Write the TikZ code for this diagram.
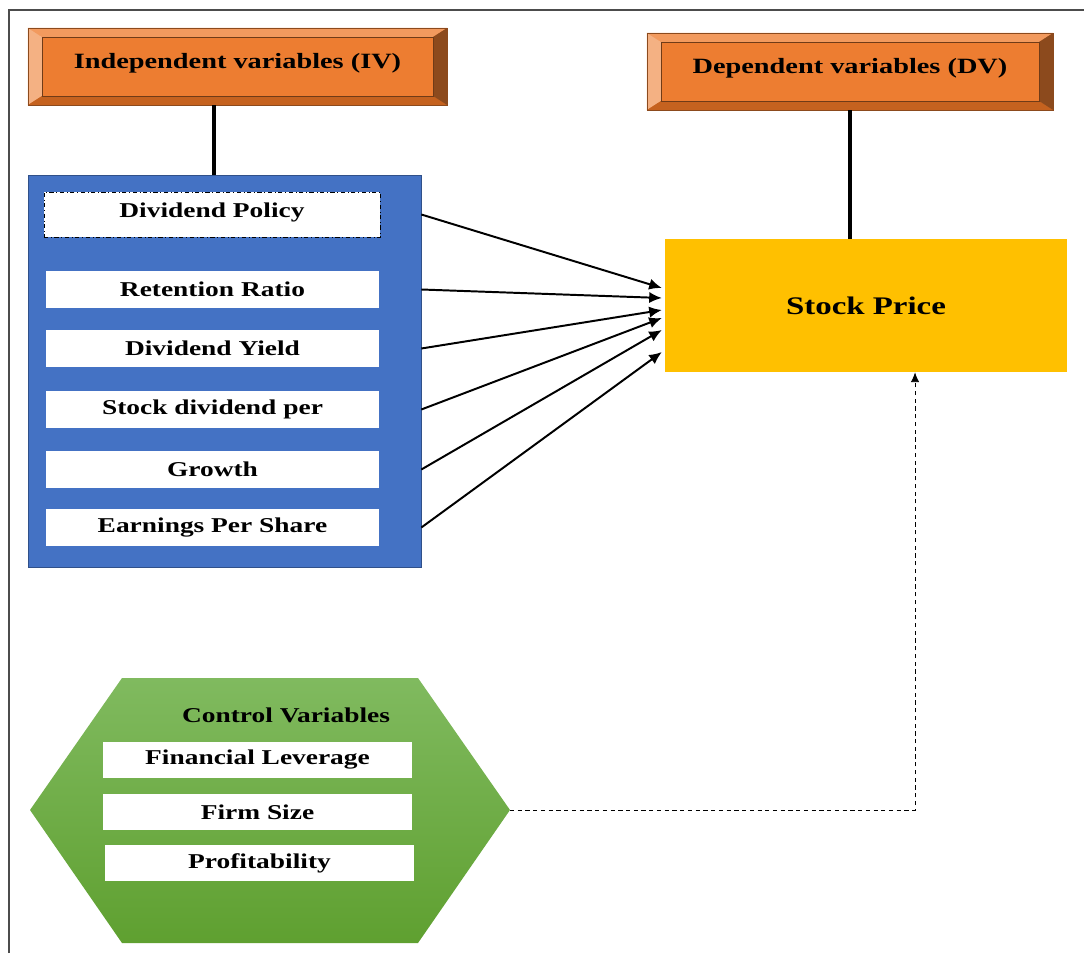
\documentclass[tikz,border=0pt]{standalone}
\usepackage{fontspec}
\setmainfont{Liberation Serif}[FakeStretch=1.3]
\usetikzlibrary{arrows.meta}
\begin{document}
\begin{tikzpicture}[x=0.025cm, y=-0.025cm]
  \definecolor{ivorange}{HTML}{ED7D31}
  \definecolor{bevtop}{HTML}{F29A5E}
  \definecolor{bevleft}{HTML}{F4B183}
  \definecolor{bevbot}{HTML}{C5621F}
  \definecolor{bevright}{HTML}{8C4A1D}
  \definecolor{ivblue}{HTML}{4472C4}
  \definecolor{spgold}{HTML}{FFC000}
  \definecolor{cvtop}{HTML}{80BA5F}
  \definecolor{cvbot}{HTML}{5FA030}
  \tikzstyle{hdr}=[draw=bevright, fill=ivorange, minimum height=1.925cm, inner sep=0pt, text depth=0.3cm, font=\fontsize{15.5}{18}\selectfont\bfseries,
    path picture={
      \fill[bevtop] (path picture bounding box.north west) -- (path picture bounding box.north east) -- ([shift={(-0.35cm,-0.225cm)}]path picture bounding box.north east) -- ([shift={(0.35cm,-0.225cm)}]path picture bounding box.north west) -- cycle;
      \fill[bevleft] (path picture bounding box.north west) -- ([shift={(0.35cm,-0.225cm)}]path picture bounding box.north west) -- ([shift={(0.35cm,0.225cm)}]path picture bounding box.south west) -- (path picture bounding box.south west) -- cycle;
      \fill[bevbot] (path picture bounding box.south west) -- ([shift={(0.35cm,0.225cm)}]path picture bounding box.south west) -- ([shift={(-0.35cm,0.225cm)}]path picture bounding box.south east) -- (path picture bounding box.south east) -- cycle;
      \fill[bevright] (path picture bounding box.north east) -- ([shift={(-0.35cm,-0.225cm)}]path picture bounding box.north east) -- ([shift={(-0.35cm,0.225cm)}]path picture bounding box.south east) -- (path picture bounding box.south east) -- cycle;
      \draw[bevright!80!black, line width=0.3pt] ([shift={(0.35cm,-0.225cm)}]path picture bounding box.north west) rectangle ([shift={(-0.35cm,0.225cm)}]path picture bounding box.south east);
    }]
  \tikzstyle{item}=[fill=white, minimum width=8.325cm, minimum height=0.925cm, inner sep=0pt, font=\fontsize{15}{18}\selectfont\bfseries]
  \tikzstyle{citem}=[fill=white, minimum width=7.725cm, minimum height=0.9cm, inner sep=0pt, font=\fontsize{15}{18}\selectfont\bfseries]
  \tikzstyle{arr}=[-{Latex[length=9pt,width=8pt]}, line width=1.4pt]
  \tikzstyle{stem}=[line width=2.2pt]
  \tikzstyle{dashline}=[dash pattern=on 3pt off 2.5pt, line width=0.6pt, -{Latex[length=7pt,width=6pt]}]

  \useasboundingbox (0,0) rectangle (1084,953);
  % Rahmen, nur links und oben sichtbar
  \draw[gray!60!black, line width=1pt] (9,953) -- (9,10) -- (1084,10);

  % Kopfzeilen
  \node[hdr, minimum width=10.475cm] (iv) at (237.5,66.5) {Independent variables (IV)};
  \node[hdr, minimum width=10.15cm] (dv) at (850,71.5) {Dependent variables (DV)};

  % Block der unabhaengigen Variablen
  \node[draw=ivblue!70!black, fill=ivblue, minimum width=9.825cm, minimum height=9.8cm] (ivbox) at (224.5,371) {};
  \node[item, draw, dash dot, text depth=0.22cm, minimum width=8.4cm, minimum height=1.125cm] (dp) at (212,214.5) {Dividend Policy};
  \node[item] (rr) at (212.5,289.5) {Retention Ratio};
  \node[item] (dy) at (212.5,348.5) {Dividend Yield};
  \node[item] (sd) at (212.5,409.5) {Stock dividend per};
  \node[item] (gr) at (212.5,469.5) {Growth};
  \node[item] (eps) at (212.5,527.5) {Earnings Per Share};

  \draw[stem] ([xshift=-0.5875cm]iv.south) -- ([xshift=-0.5875cm]iv.south |- ivbox.north);

  % Abhaengige Variable
  \node[fill=spgold, minimum width=10.05cm, minimum height=3.325cm, font=\fontsize{18}{21}\selectfont\bfseries] (sp) at (866,305.5) {Stock Price};
  \draw[stem] (dv.south) -- (dv.south |- sp.north);

  \foreach \n/\s in {dp/0.4375, rr/0.1875, dy/-0.1125, sd/-0.3125, gr/-0.6125, eps/-1.1625}
    \draw[arr] (ivbox.east |- \n) -- ([xshift=-2pt, yshift=\s cm]sp.west);

  % Kontrollvariablen im Sechseck
  \shade[top color=cvtop, bottom color=cvbot] (30,810) -- (122,678) -- (418,678) -- (510,810) -- (418,943) -- (122,943) -- cycle;
  \coordinate (cv) at (510,810);
  \node[font=\fontsize{15}{18}\selectfont\bfseries] (cvt) at (286,715) {Control Variables};
  \node[citem] (fl) at (257.5,760) {Financial Leverage};
  \node[citem] (fs) at (257.5,812) {Firm Size};
  \node[citem] (pr) at (259.5,863) {Profitability};

  \draw[dashline] (cv) -| ([xshift=1.225cm]sp.south);
\end{tikzpicture}
\end{document}
